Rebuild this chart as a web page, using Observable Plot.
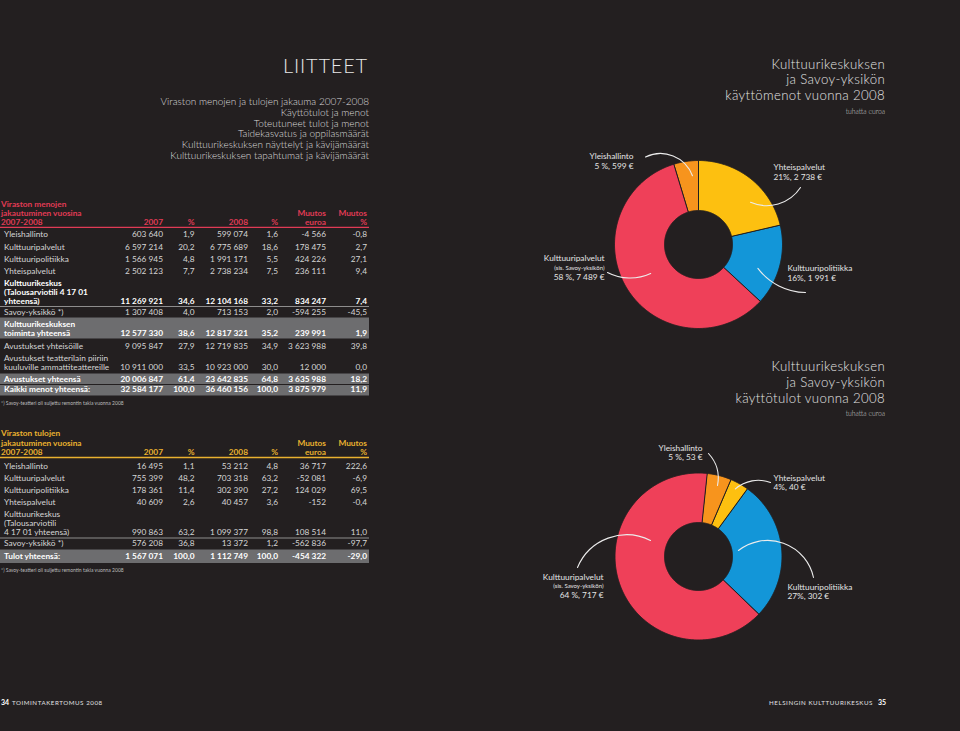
<!DOCTYPE html>
<html>
<head>
<meta charset="utf-8">
<script src="https://cdn.jsdelivr.net/npm/d3@7"></script>
<script src="https://cdn.jsdelivr.net/npm/@observablehq/plot@0.6"></script>
<style>
  html, body { margin: 0; padding: 0; background: #231f20; }
  #page { position: relative; width: 960px; height: 731px; overflow: hidden; background: #231f20; font-family: Lato, "Open Sans", sans-serif; }
  .donut { position: absolute; }
</style>
</head>
<body>
<div id="page"></div>
<script>
// ---------------- DATA ----------------
const categories = ["Yleishallinto", "Kulttuuripalvelut", "Kulttuuripolitiikka", "Yhteispalvelut"];
const categorySubnotes = ["", "(sis. Savoy-yksikön)", "", ""];

// Käyttömenot 2008, tuhatta euroa (categories order)
const menot2008k = [599, 7489, 1991, 2738];
const menotPctText = ["5 %", "58 %", "16%", "21%"];
const menotSliceOrder = ["Yhteispalvelut", "Kulttuuripolitiikka", "Kulttuuripalvelut", "Yleishallinto"];

// Käyttötulot 2008, tuhatta euroa (categories order)
const tulot2008k = [53, 717, 302, 40];
const tulotPctText = ["5 %", "64 %", "27%", "4%"];
const tulotSliceOrder = ["Yleishallinto", "Yhteispalvelut", "Kulttuuripolitiikka", "Kulttuuripalvelut"];

// Table 1: Viraston menojen jakautuminen vuosina 2007-2008
const menotTitle = ["Viraston menojen", "jakautuminen vuosina", "2007-2008"];
const menotRowLabels = [
  ["Yleishallinto"],
  ["Kulttuuripalvelut"],
  ["Kulttuuripolitiikka"],
  ["Yhteispalvelut"],
  ["Kulttuurikeskus", "(Talousarviotili 4 17 01", "yhteensä)"],
  ["Savoy-yksikkö *)"],
  ["Kulttuurikeskuksen", "toiminta yhteensä"],
  ["Avustukset yhteisöille"],
  ["Avustukset teatterilain piiriin", "kuuluville ammattiteattereille"],
  ["Avustukset yhteensä"],
  ["Kaikki menot yhteensä:"]
];
const menot2007 = [603640, 6597214, 1566945, 2502123, 11269921, 1307408, 12577330, 9095847, 10911000, 20006847, 32584177];
const menot2007Pct = [1.9, 20.2, 4.8, 7.7, 34.6, 4.0, 38.6, 27.9, 33.5, 61.4, 100.0];
const menot2008 = [599074, 6775689, 1991171, 2738234, 12104168, 713153, 12817321, 12719835, 10923000, 23642835, 36460156];
const menot2008Pct = [1.6, 18.6, 5.5, 7.5, 33.2, 2.0, 35.2, 34.9, 30.0, 64.8, 100.0];
const menotMuutos = [-4566, 178475, 424226, 236111, 834247, -594255, 239991, 3623988, 12000, 3635988, 3875979];
const menotMuutosPct = [-0.8, 2.7, 27.1, 9.4, 7.4, -45.5, 1.9, 39.8, 0.0, 18.2, 11.9];

// Table 2: Viraston tulojen jakautuminen vuosina 2007-2008
const tulotTitle = ["Viraston tulojen", "jakautuminen vuosina", "2007-2008"];
const tulotRowLabels = [
  ["Yleishallinto"],
  ["Kulttuuripalvelut"],
  ["Kulttuuripolitiikka"],
  ["Yhteispalvelut"],
  ["Kulttuurikeskus", "(Talousarviotili", "4 17 01 yhteensä)"],
  ["Savoy-yksikkö *)"],
  ["Tulot yhteensä:"]
];
const tulot2007 = [16495, 755399, 178361, 40609, 990863, 576208, 1567071];
const tulot2007Pct = [1.1, 48.2, 11.4, 2.6, 63.2, 36.8, 100.0];
const tulot2008 = [53212, 703318, 302390, 40457, 1099377, 13372, 1112749];
const tulot2008Pct = [4.8, 63.2, 27.2, 3.6, 98.8, 1.2, 100.0];
const tulotMuutos = [36717, -52081, 124029, -152, 108514, -562836, -454322];
const tulotMuutosPct = [222.6, -6.9, 69.5, -0.4, 11.0, -97.7, -29.0];

const columnHeads = ["2007", "%", "2008", "%", "euroa", "%"];
const footnoteText = "*) Savoy-teatteri oli suljettu remontin takia vuonna 2008";
const contentsList = [
  "Viraston menojen ja tulojen jakauma 2007-2008",
  "Käyttötulot ja menot",
  "Toteutuneet tulot ja menot",
  "Taidekasvatus ja oppilasmäärät",
  "Kulttuurikeskuksen näyttelyt ja kävijämäärät",
  "Kulttuurikeskuksen tapahtumat ja kävijämäärät"
];

// ---------------- STYLE / LAYOUT ----------------
const BG = "#231f20";
const categoryColors = ["#f7941d", "#ef4059", "#1396d8", "#fdc010"];
const RED = "#e03b55", GOLD = "#e9b12f", BAND = "#6d6d6f";
const TXT = "#d6d6d6", WHITE = "#ffffff";
const FS = 8.3;
const COLS = [163, 194.5, 248, 278, 326, 367];
const TABLE_W = 369;

const loc = d3.formatLocale({decimal: ",", thousands: "\u00a0", grouping: [3], currency: ["", ""], minus: "-"});
const fInt = loc.format(",d");
const fPct = loc.format(".1f");

const page = d3.select("#page");
const svg = page.append("svg").attr("width", 960).attr("height", 731)
  .style("position", "absolute").style("left", "0px").style("top", "0px");

function txt(x, y, s, o = {}) {
  const t = svg.append("text").attr("x", x).attr("y", y).text(s)
    .attr("font-family", o.family || "Lato, 'Open Sans', sans-serif")
    .attr("font-size", o.size || FS)
    .attr("font-weight", o.weight || 400)
    .attr("text-anchor", o.anchor || "start")
    .attr("fill", o.fill || TXT);
  if (o.ls) t.attr("letter-spacing", o.ls);
  return t;
}
function hline(x0, x1, y, color, w) {
  svg.append("line").attr("x1", x0).attr("x2", x1).attr("y1", y).attr("y2", y)
    .attr("stroke", color).attr("stroke-width", w);
}

// ---------------- LEFT PAGE HEADER ----------------
txt(368, 72.5, "LIITTEET", {size: 20, weight: 300, anchor: "end", fill: "#e8e8e8", ls: 0.8});
const listBaselines = [105, 116, 126.7, 137.3, 148.3, 158.8];
contentsList.forEach((s, i) => txt(369, listBaselines[i], s, {size: 10, weight: 300, anchor: "end", fill: "#dcdcdc"}));

// ---------------- TABLES ----------------
function drawTable(spec) {
  const {accent, title, headerY, ruleY, labels, values, kinds, rowY, bands, sepY, footY} = spec;
  bands.forEach(([y0, y1]) => svg.append("rect").attr("x", 0).attr("y", y0).attr("width", TABLE_W).attr("height", y1 - y0).attr("fill", BAND));
  title.forEach((t, k) => txt(1, headerY[k], t, {weight: 700, fill: accent}));
  txt(COLS[4], headerY[1], "Muutos", {weight: 700, fill: accent, anchor: "end"});
  txt(COLS[5], headerY[1], "Muutos", {weight: 700, fill: accent, anchor: "end"});
  columnHeads.forEach((h, j) => txt(COLS[j], headerY[2], h, {weight: 700, fill: accent, anchor: "end"}));
  hline(0, TABLE_W, ruleY, accent, 1.3);
  sepY.forEach(y => hline(0, TABLE_W, y, "#bdbdbd", 0.7));
  labels.forEach((lines, i) => {
    const bold = kinds[i] !== "";
    const fill = bold ? WHITE : TXT;
    const weight = bold ? 700 : 400;
    const ys = rowY[i];
    lines.forEach((l, k) => txt(4, ys[k], l, {fill, weight}));
    const yv = ys[ys.length - 1];
    const vals = [fInt(values[0][i]), fPct(values[1][i]), fInt(values[2][i]), fPct(values[3][i]), fInt(values[4][i]), fPct(values[5][i])];
    vals.forEach((v, j) => txt(COLS[j], yv, v, {fill, weight, anchor: "end"}));
  });
  txt(1, footY, footnoteText, {size: 5, fill: "#bcbcbc"});
}

drawTable({
  accent: RED, title: menotTitle,
  headerY: [207, 216, 225], ruleY: 227.3,
  labels: menotRowLabels,
  values: [menot2007, menot2007Pct, menot2008, menot2008Pct, menotMuutos, menotMuutosPct],
  kinds: ["", "", "", "", "bold", "", "band", "", "", "band", "band"],
  rowY: [[237], [250], [262], [274], [286, 295, 303.5], [315], [327, 335.5], [349], [361, 370], [381.5], [392]],
  bands: [[317.5, 338.5], [373.5, 384], [385, 395.5]],
  sepY: [306.5],
  footY: 404.5
});

drawTable({
  accent: GOLD, title: tulotTitle,
  headerY: [436, 445.5, 455], ruleY: 457.5,
  labels: tulotRowLabels,
  values: [tulot2007, tulot2007Pct, tulot2008, tulot2008Pct, tulotMuutos, tulotMuutosPct],
  kinds: ["", "", "", "", "", "", "band"],
  rowY: [[469], [481], [493], [505], [517, 526, 535], [546], [559]],
  bands: [[549.5, 563]],
  sepY: [538],
  footY: 572
});

// ---------------- RIGHT PAGE TITLES ----------------
function rightTitle(lines, ys, subY) {
  lines.forEach((l, i) => txt(885, ys[i], l, {size: 13.2, weight: 300, anchor: "end", fill: "#e2e2e2", ls: 0.35}));
  txt(885, subY, "tuhatta euroa", {size: 6.8, weight: 300, anchor: "end", fill: "#cfcfcf"});
}
rightTitle(["Kulttuurikeskuksen", "ja Savoy-yksikön", "käyttömenot vuonna 2008"], [68.5, 84.3, 100.1], 113.5);
rightTitle(["Kulttuurikeskuksen", "ja Savoy-yksikön", "käyttötulot vuonna 2008"], [371, 386.8, 402.6], 416);

// ---------------- FOOTER ----------------
txt(1, 704.5, "34", {size: 7, weight: 700, fill: WHITE});
txt(12, 704.5, "TOIMINTAKERTOMUS 2008", {size: 6.2, weight: 400, fill: "#e0e0e0", ls: 0.55});
txt(873, 704.5, "HELSINGIN KULTTUURIKESKUS", {size: 6.2, weight: 400, fill: "#e0e0e0", ls: 0.55, anchor: "end"});
txt(878, 704.5, "35", {size: 7, weight: 700, fill: WHITE});

// ---------------- DONUTS (Observable Plot) ----------------
function donut(spec) {
  const {values, pctText, order, center, R, r0, startDeg, labelLayout, leaderLayout} = spec;
  const W = 360, H = 270;
  const rad = Math.PI / 180;
  const data = order.map(name => {
    const i = categories.indexOf(name);
    return {name, value: values[i], pct: pctText[i], sub: categorySubnotes[i]};
  });
  const a0 = startDeg * rad;
  const arcs = d3.pie().sort(null).value(d => d.value).startAngle(a0).endAngle(a0 + 2 * Math.PI)(data);
  const polar = (a, r) => ({x: r * Math.sin(a), y: -r * Math.cos(a)});
  const ring = [];
  for (const arc of arcs) {
    const n = Math.max(2, Math.ceil((arc.endAngle - arc.startAngle) / (0.5 * rad)));
    for (let k = 0; k <= n; k++) ring.push({name: arc.data.name, ...polar(arc.startAngle + (arc.endAngle - arc.startAngle) * k / n, R)});
    for (let k = n; k >= 0; k--) ring.push({name: arc.data.name, ...polar(arc.startAngle + (arc.endAngle - arc.startAngle) * k / n, r0)});
  }
  // labels
  const labelRows = [];
  for (const arc of arcs) {
    const d = arc.data;
    const L = labelLayout[d.name];
    const lines = [{t: d.name, s: FS}];
    if (d.sub) lines.push({t: d.sub, s: 6});
    lines.push({t: `${d.pct}, ${fInt(d.value)} €`, s: FS});
    lines.forEach((ln, k) => labelRows.push({text: ln.t, size: ln.s, x: L.x, y: L.ys[k], anchor: L.anchor}));
  }
  // leaders: from label anchor to a point inside its slice
  const leaderMarks = arcs.map(arc => {
    const Ld = leaderLayout[arc.data.name];
    const mid = (arc.startAngle + arc.endAngle) / 2 + Ld.shift * rad;
    const end = polar(mid, Ld.r);
    return Plot.arrow([{x1: Ld.x, y1: Ld.y, x2: end.x, y2: end.y}], {
      x1: "x1", y1: "y1", x2: "x2", y2: "y2", bend: Ld.bend, headLength: 0,
      stroke: "#ececec", strokeWidth: 1.1
    });
  });
  const chart = Plot.plot({
    width: W, height: H, margin: 0,
    x: {domain: [-W / 2, W / 2], range: [0, W], axis: null},
    y: {domain: [-H / 2, H / 2], range: [0, H], axis: null},
    color: {domain: categories, range: categoryColors},
    style: {background: "transparent", overflow: "visible", fontFamily: "Lato, 'Open Sans', sans-serif"},
    marks: [
      Plot.line(ring, {x: "x", y: "y", z: "name", fill: "name", stroke: BG, strokeWidth: 1, curve: "linear-closed"}),
      ...leaderMarks,
      Plot.text(labelRows.filter(d => d.anchor === "end"), {x: "x", y: "y", text: "text", fontSize: "size", textAnchor: "end", fill: "#e4e4e4"}),
      Plot.text(labelRows.filter(d => d.anchor === "start"), {x: "x", y: "y", text: "text", fontSize: "size", textAnchor: "start", fill: "#e4e4e4"})
    ]
  });
  const holder = page.append("div").attr("class", "donut")
    .style("left", (center[0] - W / 2) + "px").style("top", (center[1] - H / 2) + "px")
    .style("width", W + "px").style("height", H + "px");
  holder.node().appendChild(chart);
}

donut({
  values: menot2008k, pctText: menotPctText, order: menotSliceOrder,
  center: [698, 244], R: 84, r0: 34, startDeg: 0,
  labelLayout: {
    "Yleishallinto": {anchor: "end", x: -65, ys: [-88, -78.5]},
    "Yhteispalvelut": {anchor: "start", x: 75, ys: [-77, -67.5]},
    "Kulttuuripalvelut": {anchor: "end", x: -94, ys: [14, 23.5, 33]},
    "Kulttuuripolitiikka": {anchor: "start", x: 89, ys: [24, 33.5]}
  },
  leaderLayout: {
    "Yleishallinto": {x: -53, y: -87.5, shift: 3.4, r: 69, bend: 48},
    "Yhteispalvelut": {x: 102, y: -57, shift: 12.5, r: 67, bend: 40},
    "Kulttuuripalvelut": {x: -91, y: 28, shift: 0.7, r: 56, bend: -26},
    "Kulttuuripolitiikka": {x: 107, y: 48, shift: 7, r: 64, bend: 26}
  }
});

donut({
  values: tulot2008k, pctText: tulotPctText, order: tulotSliceOrder,
  center: [698, 556], R: 83.5, r0: 34, startDeg: 6,
  labelLayout: {
    "Yleishallinto": {anchor: "end", x: 4, ys: [-108, -99]},
    "Yhteispalvelut": {anchor: "start", x: 75, ys: [-78, -69]},
    "Kulttuuripalvelut": {anchor: "end", x: -95, ys: [21, 30, 39]},
    "Kulttuuripolitiikka": {anchor: "start", x: 89, ys: [31, 40]}
  },
  leaderLayout: {
    "Yleishallinto": {x: 10, y: -103, shift: 0.4, r: 73.5, bend: 27},
    "Yhteispalvelut": {x: 72, y: -74, shift: -1, r: 77, bend: -31},
    "Kulttuuripalvelut": {x: -121, y: 11, shift: 38.5, r: 50.6, bend: 47},
    "Kulttuuripolitiikka": {x: 115, y: 21, shift: -3.5, r: 40.4, bend: -58}
  }
});
</script>
</body>
</html>
